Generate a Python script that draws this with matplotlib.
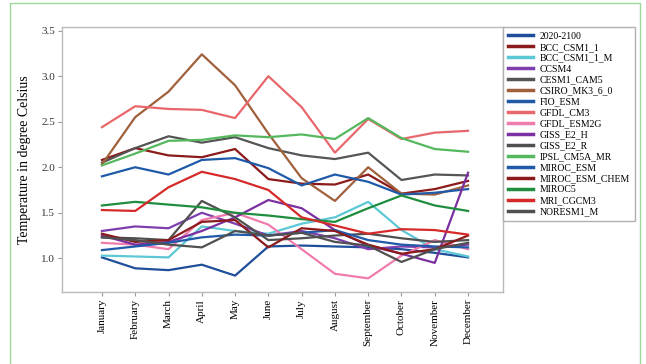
import matplotlib.pyplot as plt
from matplotlib.patches import Rectangle

plt.rcParams['font.family'] = ['Liberation Serif', 'DejaVu Serif']

months = ['January', 'February', 'March', 'April', 'May', 'June', 'July',
          'August', 'September', 'October', 'November', 'December']

# monthly temperature change per model (degree Celsius)
ens_2020_2100 = [1.01, 0.89, 0.87, 0.93, 0.81, 1.13, 1.14, 1.13, 1.12, 1.10, 1.06, 1.01]
bcc_csm1_1 = [2.08, 2.21, 2.13, 2.11, 2.20, 1.87, 1.82, 1.81, 1.92, 1.71, 1.76, 1.85]
bcc_csm1_1_m = [1.03, 1.02, 1.01, 1.35, 1.30, 1.27, 1.38, 1.45, 1.62, 1.31, 1.10, 1.02]
ccsm4 = [1.30, 1.35, 1.33, 1.50, 1.38, 1.25, 1.30, 1.22, 1.10, 1.13, 1.12, 1.15]
cesm1_cam5 = [2.05, 2.21, 2.34, 2.27, 2.33, 2.21, 2.13, 2.09, 2.16, 1.86, 1.92, 1.91]
csiro_mk3_6_0 = [2.03, 2.55, 2.83, 3.24, 2.90, 2.37, 1.88, 1.63, 2.00, 1.71, 1.70, 1.80]
fio_esm = [1.90, 2.00, 1.92, 2.08, 2.10, 1.99, 1.80, 1.92, 1.84, 1.70, 1.72, 1.76]
gfdl_cm3 = [2.44, 2.67, 2.64, 2.63, 2.54, 3.00, 2.66, 2.16, 2.53, 2.31, 2.38, 2.40]
gfdl_esm2g = [1.17, 1.15, 1.10, 1.42, 1.50, 1.37, 1.10, 0.83, 0.78, 1.03, 1.20, 1.10]
giss_e2_h = [1.25, 1.15, 1.18, 1.30, 1.45, 1.64, 1.55, 1.31, 1.14, 1.05, 0.95, 1.94]
giss_e2_r = [1.23, 1.22, 1.20, 1.63, 1.45, 1.20, 1.22, 1.25, 1.27, 1.22, 1.18, 1.20]
ipsl_cm5a_mr = [2.02, 2.15, 2.29, 2.30, 2.35, 2.33, 2.36, 2.31, 2.54, 2.32, 2.20, 2.17]
miroc_esm = [1.09, 1.13, 1.17, 1.23, 1.26, 1.25, 1.28, 1.31, 1.20, 1.15, 1.13, 1.12]
miroc_esm_chem = [1.27, 1.18, 1.20, 1.40, 1.42, 1.12, 1.33, 1.30, 1.15, 1.05, 1.10, 1.25]
miroc5 = [1.58, 1.62, 1.59, 1.56, 1.50, 1.47, 1.43, 1.40, 1.55, 1.69, 1.58, 1.52]
mri_cgcm3 = [1.53, 1.52, 1.78, 1.95, 1.87, 1.75, 1.45, 1.36, 1.27, 1.32, 1.31, 1.26]
noresm1_m = [1.23, 1.20, 1.15, 1.12, 1.30, 1.25, 1.28, 1.18, 1.14, 0.96, 1.10, 1.17]

series = [
    ('2020-2100', ens_2020_2100, '#1f4e9a'),
    ('BCC_CSM1_1', bcc_csm1_1, '#8b1a1a'),
    ('BCC_CSM1_1_M', bcc_csm1_1_m, '#5cc8d6'),
    ('CCSM4', ccsm4, '#7e3fae'),
    ('CESM1_CAM5', cesm1_cam5, '#555555'),
    ('CSIRO_MK3_6_0', csiro_mk3_6_0, '#a0603c'),
    ('FIO_ESM', fio_esm, '#1f5aa8'),
    ('GFDL_CM3', gfdl_cm3, '#e8676c'),
    ('GFDL_ESM2G', gfdl_esm2g, '#f07cae'),
    ('GISS_E2_H', giss_e2_h, '#7b2fa0'),
    ('GISS_E2_R', giss_e2_r, '#505050'),
    ('IPSL_CM5A_MR', ipsl_cm5a_mr, '#55b85e'),
    ('MIROC_ESM', miroc_esm, '#1f5aa8'),
    ('MIROC_ESM_CHEM', miroc_esm_chem, '#8b1a1a'),
    ('MIROC5', miroc5, '#1e8e3e'),
    ('MRI_CGCM3', mri_cgcm3, '#d62a2a'),
    ('NORESM1_M', noresm1_m, '#505050'),
]

fig = plt.figure(figsize=(6.46, 3.64), dpi=100)
ax = fig.add_axes([62 / 646, 1 - 292 / 364, 441 / 646, 265 / 364])

x = list(range(len(months)))
for name, vals, col in series:
    ax.plot(x, vals, color=col, lw=1.6, label=name)

ax.set_xlim(-1.2, 12.05)
ax.set_ylim(0.63, 3.54)
ax.set_xticks(x)
ax.set_xticklabels(months, rotation=90, fontsize=8)
ax.set_yticks([1.0, 1.5, 2.0, 2.5, 3.0, 3.5])
ax.set_yticklabels(['1.0', '1.5', '2.0', '2.5', '3.0', '3.5'], fontsize=8, color='#333333')
ax.tick_params(axis='both', length=3, width=0.8, color='#999999', pad=2)
ax.set_ylabel('Temperature in degree Celsius', fontsize=10, labelpad=7)
for s in ax.spines.values():
    s.set_color('#bbbbbb')
    s.set_linewidth(1)

leg = fig.legend(loc='upper left', bbox_to_anchor=(503 / 646, 1 - 27 / 364), fontsize=7,
                 handlelength=2.6, labelspacing=0.2, borderpad=0.5, handletextpad=0.7,
                 fancybox=False, framealpha=1, edgecolor='#b0b0b0', borderaxespad=0)
for h in leg.get_lines():
    h.set_linewidth(2.5)

# thin green frame round the figure
fig.patches.append(Rectangle((10 / 646, -0.1), 630 / 646, 1.1 - 3 / 364, transform=fig.transFigure,
                             fill=False, edgecolor='#9ad89a', lw=1, clip_on=False))

fig.savefig('out.png', dpi=100)
